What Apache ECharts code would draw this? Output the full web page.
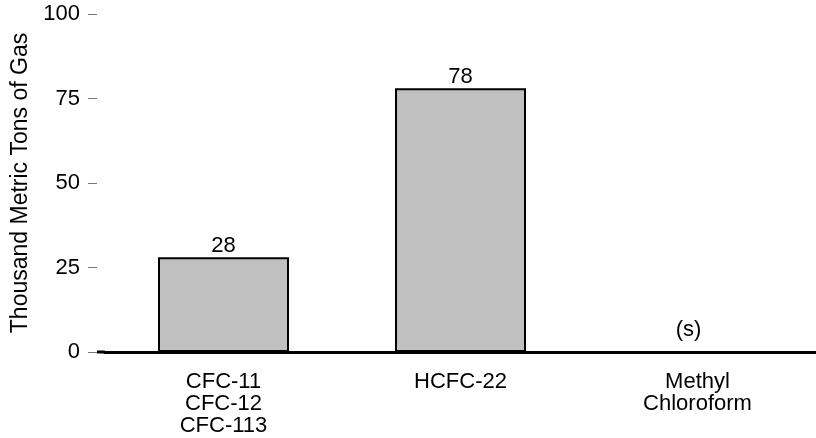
<!DOCTYPE html>
<html><head><meta charset="utf-8">
<script src="https://cdn.jsdelivr.net/npm/echarts@6/dist/echarts.min.js"></script>
<style>html,body{margin:0;padding:0;background:#fff}#c{width:816px;height:438px}</style>
</head><body><div id="c"></div>
<script>
const categories = ['CFC-11\nCFC-12\nCFC-113', 'HCFC-22', 'Methyl\nChloroform'];
const values = [28, 78, 0];
const valueLabels = ['28', '78', '(s)'];
const yTicks = [0, 25, 50, 75, 100];

const chart = echarts.init(document.getElementById('c'));
const font = 'Liberation Sans, Arial, sans-serif';
const FS = 22;
chart.setOption({
  animation: false,
  grid: {left: 105, right: 0, top: 14, bottom: 86, containLabel: false},
  xAxis: {
    type: 'category', data: categories,
    axisLine: {lineStyle: {color: '#000', width: 3}},
    axisTick: {show: false},
    axisLabel: {color: '#000', fontFamily: font, fontSize: FS, lineHeight: 22, margin: 19}
  },
  yAxis: {
    type: 'value', min: yTicks[0], max: yTicks[yTicks.length-1], interval: 25,
    offset: 8,
    name: 'Thousand Metric Tons of Gas', nameLocation: 'middle', nameGap: 62,
    nameTextStyle: {color: '#000', fontFamily: font, fontSize: 23},
    axisLine: {show: false},
    axisTick: {show: true, length: 9, lineStyle: {color: '#777', width: 1}},
    axisLabel: {color: '#000', fontFamily: font, fontSize: FS, margin: 17},
    splitLine: {show: false}
  },
  series: [{
    type: 'bar', barWidth: 131,
    data: values.map((v, i) => i === 2 ? {value: v, itemStyle: {borderWidth: 0}, label: {distance: 11, offset: [-9, 0]}} : v),
    itemStyle: {color: '#c0c0c0', borderColor: '#000', borderWidth: 2},
    label: {show: true, position: 'top', distance: 0, color: '#000', fontFamily: font, fontSize: FS,
      formatter: p => valueLabels[p.dataIndex]}
  }]
});
// extend the baseline left to meet the y-axis ticks
const p0 = chart.convertToPixel({gridIndex: 0}, [0, 0]);
const gridLeft = 105;
chart.setOption({graphic: [{type: 'line', shape: {x1: gridLeft - 8, y1: p0[1], x2: gridLeft, y2: p0[1]}, style: {stroke: '#000', lineWidth: 3}}]});
</script></body></html>
